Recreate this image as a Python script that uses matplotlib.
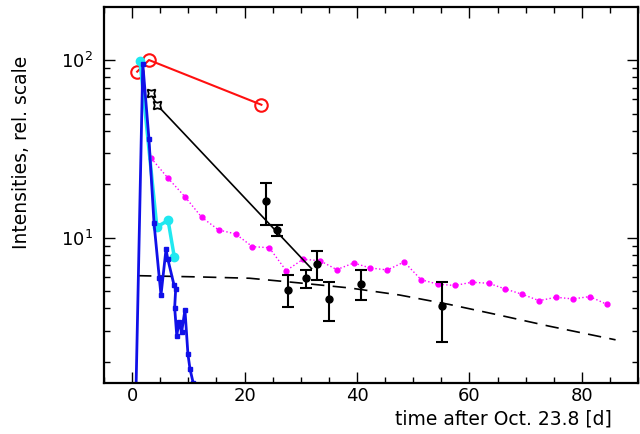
import matplotlib
matplotlib.use("Agg")
import matplotlib.pyplot as plt

plt.rcParams['font.family'] = ['DejaVu Sans']
plt.rcParams['mathtext.fontset'] = 'dejavusans'

# red open circles
red_t = [0.9, 3.0, 23.0]
red_v = [86, 100, 56]

# black line with star markers (first two points marked)
blk_t = [3.3, 4.4, 31.9]
blk_v = [65, 56, 6.7]

# cyan
cyan_t = [1.4, 4.4, 6.4, 7.5]
cyan_v = [99, 11.5, 12.5, 7.8]

# blue
blue_t = [0.6, 1.9, 3.0, 3.9, 4.84, 5.14, 6.03, 6.33, 7.45, 7.75, 7.57, 7.94,
          8.33, 8.81, 9.4, 9.93, 10.3, 10.87, 11.2]
blue_v = [1.0, 95, 35.8, 12.05, 5.91, 4.76, 8.6, 7.62, 5.42, 5.14, 4.04, 2.81,
          3.34, 2.94, 3.92, 2.21, 1.82, 1.52, 1.3]

# magenta dotted
mag_t = [3.4, 6.4, 9.4, 12.4, 15.4, 18.4, 21.4, 24.4, 27.4, 30.4, 33.4, 36.4,
         39.4, 42.4, 45.4, 48.4, 51.4, 54.4, 57.4, 60.4, 63.4, 66.4, 69.4, 72.4,
         75.4, 78.4, 81.4, 84.4]
mag_v = [28.0, 21.6, 17.0, 13.0, 11.05, 10.5, 8.9, 8.78, 6.52, 7.56, 7.42, 6.61,
         7.2, 6.75, 6.58, 7.3, 5.80, 5.47, 5.38, 5.61, 5.54, 5.14, 4.80, 4.42,
         4.62, 4.52, 4.66, 4.22]

# black points with error bars
pt_t = [23.8, 25.7, 27.8, 31.0, 32.9, 35.1, 40.8, 55.1]
pt_v = [16.0, 11.0, 5.1, 5.9, 7.1, 4.5, 5.5, 4.1]
pt_err = [4.2, 0.8, 1.05, 0.66, 1.3, 1.1, 1.05, 1.5]

# dashed model curve
dash_t = [1.06, 12.1, 20.9, 29.8, 38.7, 47.5, 56.4, 65.2, 74.1, 86.0]
dash_v = [6.11, 6.01, 5.91, 5.56, 5.21, 4.76, 4.21, 3.67, 3.18, 2.66]

fig = plt.figure(figsize=(6.4, 4.34), dpi=100)
ax = fig.add_axes([0.1625, 0.1175, 0.8345, 0.8665])

ax.plot(dash_t, dash_v, color='black', linestyle=(0, (8, 5)), lw=1.2)
ax.plot(mag_t, mag_v, color='#ff00ff', linestyle=':', lw=1.0,
        marker='o', markersize=3.5)
ax.errorbar(pt_t, pt_v, yerr=pt_err, fmt='o', color='black', markersize=5,
            elinewidth=1.5, capsize=4, capthick=1.5)
ax.plot(blk_t, blk_v, color='black', lw=1.2, marker=(4, 1, 45), markersize=8,
        markerfacecolor='white', markeredgewidth=1.3, markevery=[0, 1])
ax.plot(red_t, red_v, color='#ff1010', lw=1.5, marker='o', markersize=9,
        markerfacecolor='none', markeredgewidth=1.5)
ax.plot(cyan_t, cyan_v, color='#20e8f0', lw=2.5, marker='o', markersize=6)
ax.plot(blue_t, blue_v, color='#1010e8', lw=2.0, marker='s', markersize=3)

ax.set_yscale('log')
ax.set_xlim(-5, 90)
ax.set_ylim(1.52, 199)
ax.set_xticks([0, 20, 40, 60, 80])
ax.set_xticks(range(-5, 91, 5), minor=True)
ax.set_yticks([10, 100])
ax.set_yticklabels([r'$10^1$', r'$10^2$'])

for s in ax.spines.values():
    s.set_linewidth(1.6)
ax.tick_params(which='both', direction='in', top=True, right=True,
               labelsize=13, width=1.0)
ax.tick_params(which='major', length=8)
ax.tick_params(axis='x', which='major', pad=3)
ax.tick_params(axis='y', which='major', pad=8)
ax.tick_params(which='minor', length=4.5)

fig.text(0.956, 0.035, 'time after Oct. 23.8 [d]', ha='right', va='center',
         fontsize=13.5)
fig.text(0.034, 0.65, 'Intensities, rel. scale', rotation=90, ha='center',
         va='center', fontsize=13.5)

fig.savefig('out.png', dpi=100)
